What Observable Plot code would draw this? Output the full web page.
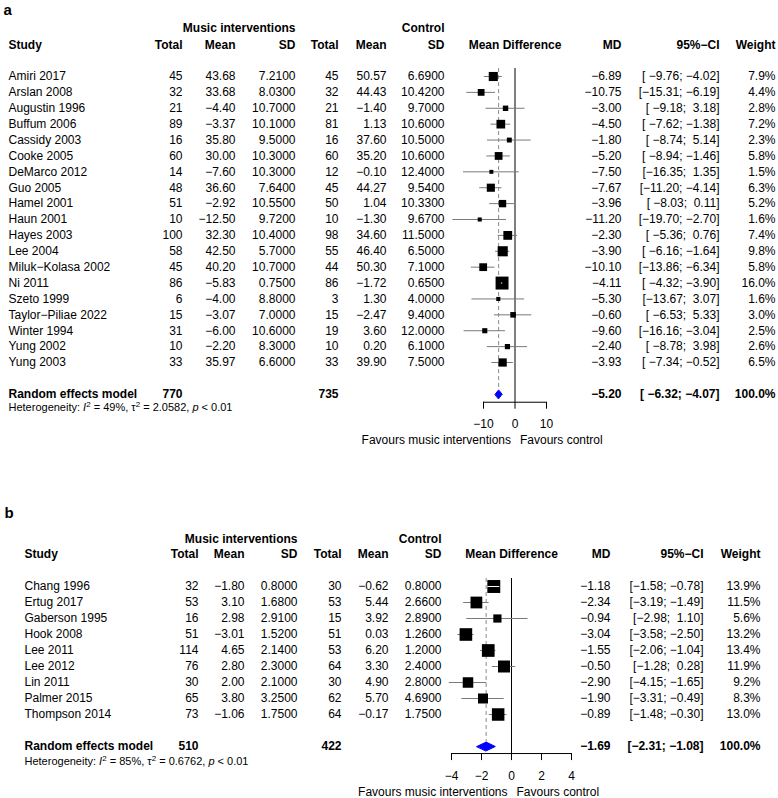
<!DOCTYPE html>
<html><head><meta charset="utf-8">
<script src="https://cdn.jsdelivr.net/npm/d3@7"></script>
<script src="https://cdn.jsdelivr.net/npm/@observablehq/plot@0.6"></script>
<style>
body{margin:0;background:#fff;}
#chart svg{display:block;}
</style>
</head><body><div id="chart"></div>
<script>
// ---------- Panel a data ----------
const studiesA = ["Amiri 2017","Arslan 2008","Augustin 1996","Buffum 2006","Cassidy 2003","Cooke 2005","DeMarco 2012","Guo 2005","Hamel 2001","Haun 2001","Hayes 2003","Lee 2004","Miluk\u2212Kolasa 2002","Ni 2011","Szeto 1999","Taylor\u2212Piliae 2022","Winter 1994","Yung 2002","Yung 2003"];
const totMA = [45,32,21,89,16,60,14,48,51,10,100,58,45,86,6,15,31,10,33];
const meanMA = [43.68,33.68,-4.40,-3.37,35.80,30.00,-7.60,36.60,-2.92,-12.50,32.30,42.50,40.20,-5.83,-4.00,-3.07,-6.00,-2.20,35.97];
const sdMA = [7.21,8.03,10.7,10.1,9.5,10.3,10.3,7.64,10.55,9.72,10.4,5.7,10.7,0.75,8.8,7.0,10.6,8.3,6.6];
const totCA = [45,32,21,81,16,60,12,45,50,10,98,55,44,86,3,15,19,10,33];
const meanCA = [50.57,44.43,-1.40,1.13,37.60,35.20,-0.10,44.27,1.04,-1.30,34.60,46.40,50.30,-1.72,1.30,-2.47,3.60,0.20,39.90];
const sdCA = [6.69,10.42,9.7,10.6,10.5,10.6,12.4,9.54,10.33,9.67,11.5,6.5,7.1,0.65,4.0,9.4,12.0,6.1,7.5];
const mdA = [-6.89,-10.75,-3.00,-4.50,-1.80,-5.20,-7.50,-7.67,-3.96,-11.20,-2.30,-3.90,-10.10,-4.11,-5.30,-0.60,-9.60,-2.40,-3.93];
const loA = [-9.76,-15.31,-9.18,-7.62,-8.74,-8.94,-16.35,-11.20,-8.03,-19.70,-5.36,-6.16,-13.86,-4.32,-13.67,-6.53,-16.16,-8.78,-7.34];
const hiA = [-4.02,-6.19,3.18,-1.38,5.14,-1.46,1.35,-4.14,0.11,-2.70,0.76,-1.64,-6.34,-3.90,3.07,5.33,-3.04,3.98,-0.52];
const wA = [7.9,4.4,2.8,7.2,2.3,5.8,1.5,6.3,5.2,1.6,7.4,9.8,5.8,16.0,1.6,3.0,2.5,2.6,6.5];
const pooledA = {totM: 770, totC: 735, md: -5.20, lo: -6.32, hi: -4.07, w: 100.0};
const hetA = {I2: "49%", tau2: "2.0582", p: "< 0.01"};
const ticksA = [-10, 0, 10];

// ---------- Panel b data ----------
const studiesB = ["Chang 1996","Ertug 2017","Gaberson 1995","Hook 2008","Lee 2011","Lee 2012","Lin 2011","Palmer 2015","Thompson 2014"];
const totMB = [32,53,16,51,114,76,30,65,73];
const meanMB = [-1.80,3.10,2.98,-3.01,4.65,2.80,2.00,3.80,-1.06];
const sdMB = [0.8,1.68,2.91,1.52,2.14,2.3,2.1,3.25,1.75];
const totCB = [30,53,15,51,53,64,30,62,64];
const meanCB = [-0.62,5.44,3.92,0.03,6.20,3.30,4.90,5.70,-0.17];
const sdCB = [0.8,2.66,2.89,1.26,1.2,2.4,2.8,4.69,1.75];
const mdB = [-1.18,-2.34,-0.94,-3.04,-1.55,-0.50,-2.90,-1.90,-0.89];
const loB = [-1.58,-3.19,-2.98,-3.58,-2.06,-1.28,-4.15,-3.31,-1.48];
const hiB = [-0.78,-1.49,1.10,-2.50,-1.04,0.28,-1.65,-0.49,-0.30];
const wB = [13.9,11.5,5.6,13.2,13.4,11.9,9.2,8.3,13.0];
const pooledB = {totM: 510, totC: 422, md: -1.69, lo: -2.31, hi: -1.08, w: 100.0};
const hetB = {I2: "85%", tau2: "0.6762", p: "< 0.01"};
const ticksB = [-4, -2, 0, 2, 4];

// ---------- formatting ----------
const f2 = d3.format(".2f"), f4 = d3.format(".4f"), f1 = d3.format(".1f"), fd = d3.format("d");
const NB = "\u00a0";
const pad = (s, w) => NB.repeat(Math.max(0, w - s.length)) + s;

function panel(p, L) {
  const n = p.studies.length;
  const rows = p.studies.map((s, i) => ({
    i, s, tm: p.totM[i], mm: p.meanM[i], sm: p.sdM[i], tc: p.totC[i], mc: p.meanC[i], sc: p.sdC[i],
    md: p.md[i], lo: p.lo[i], hi: p.hi[i], w: p.w[i]
  }));
  const pr = n + 1; // pooled row index
  const wl = d3.max([...p.lo, p.pooled.lo], v => f2(v).length);
  const wh = d3.max([...p.hi, p.pooled.hi], v => f2(v).length);
  const ci = (lo, hi) => "[" + pad(f2(lo), wl) + "; " + pad(f2(hi), wh) + "]";
  const wmax = d3.max(p.w);
  const rmax = 7.3;
  const pxPerUnit = (L.xRange[1] - L.xRange[0]) / (L.xDomain[1] - L.xDomain[0]);
  const side = w => rmax * Math.sqrt(w / wmax) * Math.sqrt(Math.PI);
  const inside = rows.filter(d => (d.hi - d.lo) * pxPerUnit < side(d.w));
  const step = (L.yRange[1] - L.yRange[0]) / (n - 1);
  const dh = 4.4 / step;
  const P = p.pooled;
  const diamond = [
    {x: P.lo, y: pr}, {x: P.md, y: pr - dh}, {x: P.hi, y: pr}, {x: P.md, y: pr + dh}
  ];
  const C = L.cols;
  const col = (data, key, fn, opts = {}) => Plot.text(data, {
    frameAnchor: "left", dx: C[key], y: opts.y ?? "i", text: fn,
    textAnchor: opts.anchor ?? "end", fontSize: opts.size ?? 12, fontWeight: opts.weight ?? "normal", fill: "black"
  });
  const pooledRow = [{i: pr}];
  const headers = [
    ["study", "Study", "start"], ["tm", "Total"], ["mm", "Mean"], ["sm", "SD"],
    ["tc", "Total"], ["mc", "Mean"], ["sc", "SD"], ["md", "MD"], ["ci", "95%\u2212CI"], ["wt", "Weight"]
  ];
  const marks = [
    // panel letter
    col([p.letter], "letter", d => d, {y: () => L.letterY, anchor: "start", size: 15, weight: "bold"}),
    // group headers
    col(["Music interventions"], "sm", d => d, {y: () => L.groupY, weight: "bold"}),
    col(["Control"], "sc", d => d, {y: () => L.groupY, weight: "bold"}),
    ...headers.map(([k, t, a]) => col([t], k, d => d, {y: () => L.headY, weight: "bold", anchor: a ?? "end"})),
    Plot.text(["Mean Difference"], {x: () => 0, y: () => L.headY, text: d => d, fontWeight: "bold", fontSize: 12, textAnchor: "middle"}),
    // study columns
    col(rows, "study", d => d.s, {anchor: "start"}),
    col(rows, "tm", d => fd(d.tm)),
    col(rows, "mm", d => f2(d.mm)),
    col(rows, "sm", d => f4(d.sm)),
    col(rows, "tc", d => fd(d.tc)),
    col(rows, "mc", d => f2(d.mc)),
    col(rows, "sc", d => f4(d.sc)),
    col(rows, "md", d => f2(d.md)),
    col(rows, "ci", d => ci(d.lo, d.hi)),
    col(rows, "wt", d => f1(d.w) + "%"),
    // pooled row
    col(pooledRow, "study", () => "Random effects model", {anchor: "start", weight: "bold"}),
    col(pooledRow, "tm", () => fd(P.totM), {weight: "bold"}),
    col(pooledRow, "tc", () => fd(P.totC), {weight: "bold"}),
    col(pooledRow, "md", () => f2(P.md), {weight: "bold"}),
    col(pooledRow, "ci", () => ci(P.lo, P.hi), {weight: "bold"}),
    col(pooledRow, "wt", () => f1(P.w) + "%", {weight: "bold"}),
    col(["Heterogeneity: I2 = " + p.het.I2 + ", \u03c42 = " + p.het.tau2 + ", p " + p.het.p], "study", d => d, {y: () => L.hetY, anchor: "start", size: 11}),
    // forest
    Plot.ruleX([P.md], {x: d => d, y1: L.topY, y2: pr - dh, stroke: "#8a8a8a", strokeDasharray: "4,3", strokeWidth: 1}),
    Plot.ruleX([0], {x: d => d, y1: L.topY, y2: L.axisY, stroke: "black", strokeWidth: 1}),
    Plot.ruleY(rows, {y: "i", x1: "lo", x2: "hi", stroke: "#7a7a7a", strokeWidth: 1}),
    Plot.dot(rows, {x: "md", y: "i", r: "w", symbol: "square", fill: "black", stroke: "none"}),
    Plot.ruleY(inside, {y: "i", x1: "lo", x2: "hi", stroke: "white", strokeWidth: 1}),
    Plot.line(diamond, {x: "x", y: "y", curve: "linear-closed", fill: "blue", stroke: "blue", strokeWidth: 1}),
    // axis
    Plot.ruleY([L.axisY], {y: d => d, x1: d3.min(p.ticks), x2: d3.max(p.ticks), stroke: "black", strokeWidth: 1}),
    Plot.ruleX(p.ticks, {x: d => d, y1: L.axisY, y2: L.axisY + L.tickLen, stroke: "black", strokeWidth: 1}),
    Plot.text(p.ticks, {x: d => d, y: () => L.tickLabY, text: d => fd(d), fontSize: 12, fill: "black"}),
    Plot.text(["Favours music interventions"], {x: () => 0, dx: -4, y: () => L.favY, text: d => d, textAnchor: "end", fontSize: 12, fill: "black"}),
    Plot.text(["Favours control"], {x: () => 0, dx: 5, y: () => L.favY, text: d => d, textAnchor: "start", fontSize: 12, fill: "black"})
  ];
  const fig = Plot.plot({
    width: 778, height: L.height,
    marginTop: 0, marginRight: 0, marginBottom: 0, marginLeft: 0,
    style: {fontFamily: "'Liberation Sans', Arial, Helvetica, sans-serif", fontSize: "12px", background: "white", color: "black", overflow: "visible"},
    x: {domain: L.xDomain, range: L.xRange, axis: null},
    y: {domain: [0, n - 1], range: L.yRange, axis: null},
    r: {type: "sqrt", domain: [0, wmax], range: [0, rmax]},
    marks
  });
  // rich heterogeneity text (italic I and p, superscript 2)
  d3.select(fig).selectAll("text").filter(function () { return this.textContent.startsWith("Heterogeneity"); })
    .each(function () {
      const t = d3.select(this);
      t.text(null);
      const parts = [
        ["Heterogeneity: ", ""], ["I", "it"], ["2", "sup"], [" = " + p.het.I2 + ", \u03c4", ""], ["2", "sup"],
        [" = " + p.het.tau2 + ", ", ""], ["p", "it"], [" " + p.het.p, ""]
      ];
      let raised = false;
      for (const [s, k] of parts) {
        const ts = t.append("tspan").text(s);
        if (k === "it") ts.attr("font-style", "italic");
        if (k === "sup") { ts.attr("font-size", 8).attr("dy", -4); raised = true; }
        else if (raised) { ts.attr("dy", 4); raised = false; }
      }
    });
  return fig;
}

const layoutA = {
  height: 470,
  xDomain: [-10, 10], xRange: [483, 546],
  yRange: [76, 362],
  cols: {letter: 3, study: 8, tm: 182, mm: 235, sm: 295, tc: 338, mc: 386, sc: 444, md: 621, ci: 719, wt: 775},
  letterY: -4.15, groupY: -3.02, headY: -2.0, hetY: 20.85, topY: -0.5,
  axisY: 20.5, tickLen: 0.44, tickLabY: 21.9, favY: 22.9
};
const layoutB = {
  height: 328,
  xDomain: [-4, 4], xRange: [451, 571],
  yRange: [116, 244],
  cols: {letter: 4, study: 24, tm: 198, mm: 244, sm: 297, tc: 341, mc: 388, sc: 441, md: 610, ci: 703, wt: 760},
  letterY: -4.6, groupY: -2.94, headY: -2.0, hetY: 10.95, topY: -0.5,
  axisY: 10.44, tickLen: 0.44, tickLabY: 11.875, favY: 12.875
};

const chart = document.getElementById("chart");
chart.append(panel({
  letter: "a", studies: studiesA, totM: totMA, meanM: meanMA, sdM: sdMA, totC: totCA, meanC: meanCA, sdC: sdCA,
  md: mdA, lo: loA, hi: hiA, w: wA, pooled: pooledA, het: hetA, ticks: ticksA
}, layoutA));
chart.append(panel({
  letter: "b", studies: studiesB, totM: totMB, meanM: meanMB, sdM: sdMB, totC: totCB, meanC: meanCB, sdC: sdCB,
  md: mdB, lo: loB, hi: hiB, w: wB, pooled: pooledB, het: hetB, ticks: ticksB
}, layoutB));
</script>
</body></html>
